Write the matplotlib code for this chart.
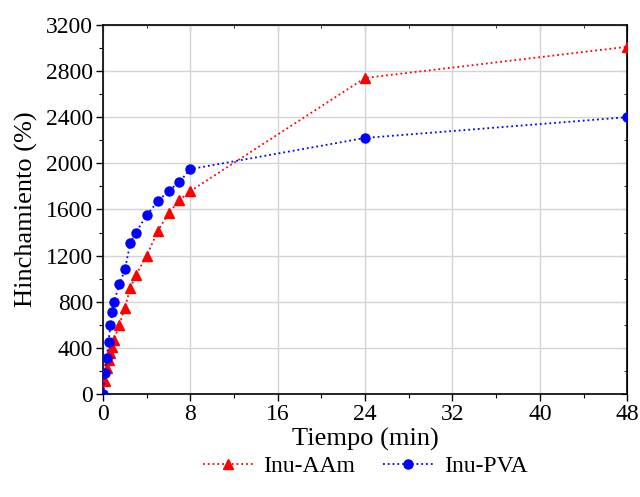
import matplotlib
matplotlib.use('Agg')
import matplotlib.pyplot as plt
from matplotlib.ticker import MultipleLocator

plt.rcParams['font.family'] = ['Liberation Serif', 'DejaVu Serif']

# ── data ─────────────────────────────────────────────────────────────────────
time_min = [0, 0.17, 0.33, 0.5, 0.67, 0.83, 1.0, 1.5, 2, 2.5, 3, 4, 5, 6, 7, 8, 24, 48]
inu_aam = [0, 110, 230, 295, 355, 410, 470, 600, 750, 920, 1030, 1200, 1410, 1570,
           1680, 1760, 2740, 3010]
inu_pva = [0, 180, 310, 450, 595, 710, 800, 950, 1080, 1310, 1400, 1550, 1670, 1760,
           1840, 1950, 2220, 2400]

x_ticks = [0, 8, 16, 24, 32, 40, 48]
y_ticks = [0, 400, 800, 1200, 1600, 2000, 2400, 2800, 3200]

RED = '#ff0000'
BLUE = '#0000ff'
GRID = '#d4d4d4'

fig = plt.figure(figsize=(6.4, 4.97), dpi=100)
ax = fig.add_axes([0.161, 0.207, 0.819, 0.743])

ax.plot(time_min, inu_aam, linestyle=':', color=RED, lw=1.3, marker='^',
        ms=7.5, mec=RED, mfc=RED, label='Inu-AAm', zorder=3)
ax.plot(time_min, inu_pva, linestyle=':', color=BLUE, lw=1.3, marker='o',
        ms=6.5, mec=BLUE, mfc=BLUE, label='Inu-PVA', zorder=3)

ax.set_xlim(0, 48)
ax.set_ylim(0, 3200)
ax.set_xticks(x_ticks)
ax.set_yticks(y_ticks)
ax.xaxis.set_minor_locator(MultipleLocator(4))
ax.yaxis.set_minor_locator(MultipleLocator(200))
ax.grid(True, which='major', color=GRID, lw=1.0, zorder=0)
ax.set_axisbelow(True)

ax.tick_params(which='major', direction='out', length=5, width=1.0, labelsize=17, pad=2)
ax.tick_params(which='minor', direction='out', length=3, width=0.8)
for s in ax.spines.values():
    s.set_linewidth(1.2)

# inward ticks on top and right
top = ax.secondary_xaxis('top')
top.set_xticks(x_ticks)
top.xaxis.set_minor_locator(MultipleLocator(4))
top.tick_params(which='major', direction='in', length=4, labeltop=False)
top.tick_params(which='minor', direction='in', length=2.5)
right = ax.secondary_yaxis('right')
right.set_yticks(y_ticks)
right.yaxis.set_minor_locator(MultipleLocator(200))
right.tick_params(which='major', direction='in', length=4, labelright=False)
right.tick_params(which='minor', direction='in', length=2.5)

ax.set_xlabel('Tiempo (min)', fontsize=19, labelpad=2)
ax.set_ylabel('Hinchamiento (%)', fontsize=19, labelpad=6)

ax.legend(loc='upper center', bbox_to_anchor=(0.5, -0.14), ncol=2, frameon=False,
          fontsize=17, handlelength=2.1, columnspacing=1.2, handletextpad=0.45,
          borderaxespad=0)

fig.savefig('out.png', dpi=100, facecolor='white')
